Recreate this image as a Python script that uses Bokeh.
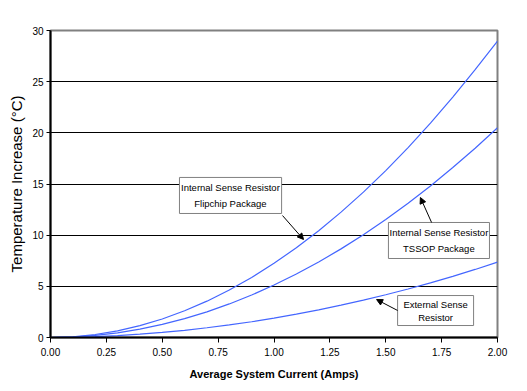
from bokeh.plotting import figure
from bokeh.models import Range1d, FixedTicker, NumeralTickFormatter, Label, Arrow, NormalHead
from bokeh.embed import file_html
from bokeh.resources import INLINE

# Data
current = [0.0, 0.1, 0.2, 0.3, 0.4, 0.5, 0.6, 0.7, 0.8, 0.9, 1.0,
           1.1, 1.2, 1.3, 1.4, 1.5, 1.6, 1.7, 1.8, 1.9, 2.0]
flipchip = [0.0, 0.07, 0.29, 0.65, 1.16, 1.81, 2.61, 3.55, 4.64, 5.87, 7.25,
            8.77, 10.44, 12.25, 14.21, 16.31, 18.56, 20.95, 23.49, 26.17, 28.95]
tssop = [0.0, 0.05, 0.21, 0.46, 0.82, 1.28, 1.85, 2.51, 3.28, 4.15, 5.13,
         6.20, 7.38, 8.66, 10.05, 11.53, 13.12, 14.81, 16.61, 18.50, 20.5]
external = [0.0, 0.03, 0.09, 0.19, 0.33, 0.50, 0.70, 0.95, 1.23, 1.54, 1.89,
            2.28, 2.70, 3.16, 3.65, 4.18, 4.74, 5.34, 5.98, 6.65, 7.36]
x_ticks = [0, 0.25, 0.5, 0.75, 1.0, 1.25, 1.5, 1.75, 2.0]
y_ticks = [0, 5, 10, 15, 20, 25, 30]
grid_ticks = [5, 10, 15, 20, 25]

FONT = "Liberation Sans"
BLUE = "#4466ff"

p = figure(width=519, height=383, output_backend="svg", toolbar_location=None,
           x_range=Range1d(0, 2), y_range=Range1d(0, 30),
           min_border_left=50, min_border_right=22, min_border_top=30, min_border_bottom=46)
p.background_fill_color = "white"
p.border_fill_color = "white"
p.outline_line_color = "#808080"
p.outline_line_width = 2

p.xgrid.visible = False
p.ygrid.ticker = FixedTicker(ticks=grid_ticks)
p.ygrid.grid_line_color = "black"
p.ygrid.grid_line_width = 1

for ax in (p.xaxis[0], p.yaxis[0]):
    ax.axis_line_color = "black"
    ax.axis_line_width = 2
    ax.major_tick_line_color = "black"
    ax.major_tick_in = 0
    ax.minor_tick_line_color = None
    ax.major_label_text_font = FONT
    ax.major_label_text_font_size = "10px"
    ax.major_label_text_color = "black"
    ax.axis_label_text_color = "black"

p.xaxis.ticker = FixedTicker(ticks=x_ticks)
p.xaxis.formatter = NumeralTickFormatter(format="0.00")
p.xaxis.major_tick_out = 5
p.xaxis.major_label_standoff = 5
p.xaxis.axis_label = "Average System Current (Amps)"
p.xaxis.axis_label_text_font = FONT
p.xaxis.axis_label_text_font_style = "bold"
p.xaxis.axis_label_text_font_size = "11px"
p.xaxis.axis_label_standoff = 9

p.yaxis.ticker = FixedTicker(ticks=y_ticks)
p.yaxis.major_tick_out = 4
p.yaxis.major_label_standoff = 3
p.yaxis.axis_label = "Temperature Increase (°C)"
p.yaxis.axis_label_text_font = FONT
p.yaxis.axis_label_text_font_style = "normal"
p.yaxis.axis_label_text_font_size = "15px"
p.yaxis.axis_label_standoff = 4

for series in (flipchip, tssop, external):
    p.line(current, series, line_color=BLUE, line_width=1.2)

def note(left, right, bottom, top, lines, cx, ys):
    p.quad(left=[left], right=[right], bottom=[bottom], top=[top],
           fill_color="white", line_color="#808080", line_width=1)
    for t, y in zip(lines, ys):
        p.add_layout(Label(x=cx, y=y, text=t, text_align="center", text_baseline="middle",
                           text_font=FONT, text_font_size="9.5px", text_color="black"))

def pointer(x0, y0, x1, y1):
    p.add_layout(Arrow(x_start=x0, y_start=y0, x_end=x1, y_end=y1,
                       line_color="black", line_width=1,
                       end=NormalHead(size=6, fill_color="black", line_color="black")))

note(0.577, 1.034, 12.12, 15.64, ["Internal Sense Resistor", "Flipchip Package"], 0.805, [14.66, 13.10])
pointer(1.038, 11.92, 1.132, 9.58)

note(1.512, 1.964, 7.72, 11.24, ["Internal Sense Resistor", "TSSOP Package"], 1.738, [10.26, 8.70])
pointer(1.705, 11.24, 1.655, 13.68)

note(1.553, 1.893, 1.17, 4.10, ["External Sense", "Resistor"], 1.723, [3.22, 1.95])
pointer(1.553, 2.64, 1.459, 3.71)

open("out.html", "w").write(file_html(p, INLINE))
